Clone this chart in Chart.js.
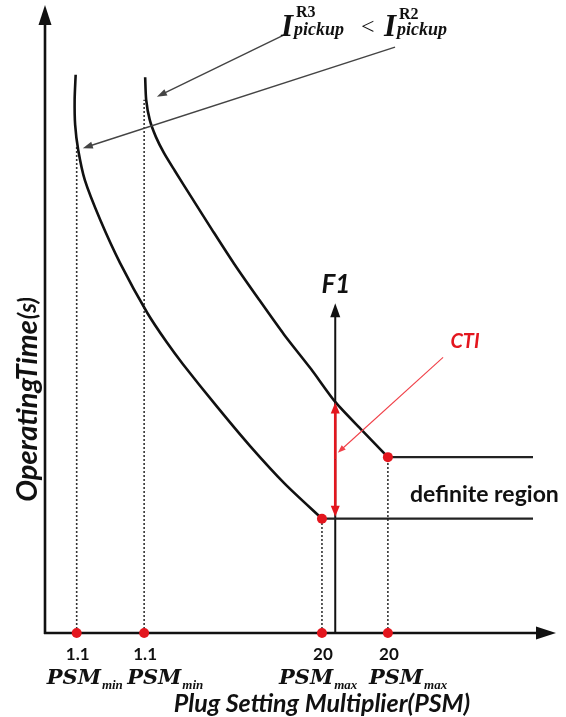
<!DOCTYPE html>
<html>
<head>
<meta charset="utf-8">
<script src="https://cdn.jsdelivr.net/npm/chart.js"></script>
<style>
html,body{margin:0;padding:0;background:#fff}
#wrap{width:566px;height:717px}
</style>
</head>
<body>
<div id="wrap"><canvas id="c" width="566" height="717"></canvas></div>
<script>
// Kurbak: [PSM unitatea, denbora (s)]
var curveR3 = [[0.60,8.89],[0.58,8.49],[0.59,8.09],[0.65,7.69],[0.78,7.21],[1.08,6.58],[1.47,5.89],[2.00,5.10],[2.39,4.62],[2.70,4.28],[3.37,3.60],[4.01,2.98],[4.70,2.37],[5.42,1.82]];
var curveR2 = [[1.96,8.85],[1.98,8.49],[2.05,8.17],[2.17,7.90],[2.33,7.64],[2.54,7.36],[2.88,6.92],[3.27,6.42],[3.70,5.88],[4.17,5.33],[4.68,4.75],[5.21,4.20],[5.68,3.68],[6.20,3.23],[6.71,2.80]];
var definiteEnd = 9.55;

// x ardatzeko markak
var tickPos   = [0.62, 1.94, 5.42, 6.71];
var tickValue = ['1.1', '1.1', '20', '20'];
var tickSub   = ['min', 'min', 'max', 'max'];
var dropTop   = [7.75, 8.49, 1.82, 2.80]; // marra etenen goiko muga

// F1 eta CTI
var f1X = 5.68, f1Top = 5.25;
var ctiTimes = [1.85, 3.67];
var ctiPointer = [7.79, 4.39, 5.73, 2.87];
var pickupArrows = [[4.74, 9.55, 2.19, 8.54], [6.85, 9.33, 0.74, 7.72]];

var RED = '#e3161e';
var INK = '#111';

function pts(a){ return a.map(function(p){ return {x:p[0], y:p[1]}; }); }

function head(ctx, x1, y1, x2, y2, len, half){
  var a = Math.atan2(y2-y1, x2-x1), c = Math.cos(a), s = Math.sin(a);
  ctx.beginPath();
  ctx.moveTo(x2, y2);
  ctx.lineTo(x2 - len*c + half*s, y2 - len*s - half*c);
  ctx.lineTo(x2 - len*c - half*s, y2 - len*s + half*c);
  ctx.closePath();
  ctx.fill();
}
function arrow(ctx, x1, y1, x2, y2, len, half, color, lw){
  var a = Math.atan2(y2-y1, x2-x1);
  ctx.strokeStyle = color; ctx.fillStyle = color; ctx.lineWidth = lw;
  ctx.beginPath();
  ctx.moveTo(x1, y1);
  ctx.lineTo(x2 - len*0.7*Math.cos(a), y2 - len*0.7*Math.sin(a));
  ctx.stroke();
  head(ctx, x1, y1, x2, y2, len, half);
}

// datasetak (lehenengoa goian marrazten da)
var datasets = [];
datasets.push({
  data: tickPos.map(function(v){ return {x:v, y:0}; })
    .concat([{x:curveR3[curveR3.length-1][0], y:curveR3[curveR3.length-1][1]},
             {x:curveR2[curveR2.length-1][0], y:curveR2[curveR2.length-1][1]}]),
  showLine:false, pointRadius:5, pointBackgroundColor:RED, pointBorderWidth:0, clip:false
});
[curveR3, curveR2].forEach(function(cv){
  datasets.push({ data: pts(cv), showLine:true, borderColor:INK, borderWidth:2.6, pointRadius:0, tension:0.25, clip:false });
  var last = cv[cv.length-1];
  datasets.push({ data: [{x:last[0], y:last[1]}, {x:definiteEnd, y:last[1]}], showLine:true, borderColor:'#222', borderWidth:2.2, pointRadius:0, clip:false });
});
tickPos.forEach(function(v, i){
  datasets.push({ data: [{x:v, y:0}, {x:v, y:dropTop[i]}], showLine:true, borderColor:'#333', borderWidth:1.6, borderDash:[2,2], pointRadius:0, clip:false });
});

var drawing = {
  id: 'drawing',
  beforeDatasetsDraw: function(chart){
    var ctx = chart.ctx, ca = chart.chartArea, xs = chart.scales.x, ys = chart.scales.y;
    ctx.save();
    arrow(ctx, ca.left, ca.bottom + 1, ca.left, ca.top, 20, 6.5, INK, 2.6);
    arrow(ctx, ca.left - 1, ca.bottom, ca.right, ca.bottom, 20, 6.5, INK, 2.6);
    arrow(ctx, xs.getPixelForValue(f1X), ca.bottom, xs.getPixelForValue(f1X), ys.getPixelForValue(f1Top), 14, 5, INK, 2);
    ctx.restore();
  },
  afterDatasetsDraw: function(chart){
    var ctx = chart.ctx, xs = chart.scales.x, ys = chart.scales.y;
    function X(v){ return xs.getPixelForValue(v); }
    function Y(v){ return ys.getPixelForValue(v); }
    ctx.save();

    // CTI gezi bikoitza
    var fx = X(f1X), y1 = Y(ctiTimes[0]), y2 = Y(ctiTimes[1]);
    arrow(ctx, fx, (y1+y2)/2, fx, y2, 11, 4.5, RED, 2.6);
    arrow(ctx, fx, (y1+y2)/2, fx, y1, 11, 4.5, RED, 2.6);
    arrow(ctx, X(ctiPointer[0]), Y(ctiPointer[1]), X(ctiPointer[2]), Y(ctiPointer[3]), 8, 3, '#f04048', 1.1);

    // I_pickup geziak
    pickupArrows.forEach(function(a){
      arrow(ctx, X(a[0]), Y(a[1]), X(a[2]), Y(a[3]), 10, 3.5, '#444', 1.4);
    });

    // testuak
    ctx.fillStyle = INK;
    ctx.textAlign = 'center'; ctx.textBaseline = 'middle';
    ctx.font = 'bold italic 26px Lato';
    ctx.fillText('F1', 336, 285);
    ctx.fillStyle = RED;
    ctx.font = 'bold italic 20px Lato';
    ctx.fillText('CTI', 465, 342);
    ctx.fillStyle = INK;
    ctx.font = 'bold 23px Lato';
    ctx.textAlign = 'left';
    ctx.fillText('definite region', 410, 495);

    // x ardatzeko etiketak
    var offs = [-30, -17, -43, -19];
    tickPos.forEach(function(v, i){
      var p = X(v);
      ctx.textAlign = 'center'; ctx.textBaseline = 'middle';
      ctx.font = 'bold 17px Lato';
      ctx.fillText(tickValue[i], p + 1, 655);
      ctx.textAlign = 'left'; ctx.textBaseline = 'alphabetic';
      ctx.font = 'bold italic 21px "DejaVu Serif"';
      ctx.fillText('PSM', p + offs[i], 684);
      var w = ctx.measureText('PSM').width;
      ctx.font = 'bold italic 13px "Liberation Serif"';
      ctx.fillText(tickSub[i], p + offs[i] + w + 1, 689);
    });

    ctx.textAlign = 'center'; ctx.textBaseline = 'middle';
    ctx.font = 'bold italic 25px Lato';
    ctx.fillText('Plug Setting Multiplier(PSM)', 322, 704);

    // y ardatzeko izenburua
    ctx.save();
    ctx.translate(28, 400);
    ctx.rotate(-Math.PI/2);
    ctx.textAlign = 'left';
    ctx.font = 'bold italic 29px Lato';
    var w1 = ctx.measureText('OperatingTime').width;
    ctx.font = 'bold italic 24px Lato';
    var w2 = ctx.measureText('(s)').width;
    var sx = -(w1 + w2)/2;
    ctx.font = 'bold italic 29px Lato';
    ctx.fillText('OperatingTime', sx, 0);
    ctx.font = 'bold italic 24px Lato';
    ctx.fillText('(s)', sx + w1 + 1, 0);
    ctx.restore();

    // I^R3_pickup < I^R2_pickup
    ctx.textAlign = 'left'; ctx.textBaseline = 'alphabetic';
    function pick(x, sup, supY){
      ctx.font = 'bold italic 31px "Liberation Serif"';
      ctx.fillText('I', x, 36);
      ctx.font = 'bold 16px "Liberation Serif"';
      ctx.fillText(sup, x + 15, supY);
      ctx.font = 'bold italic 18px "Liberation Serif"';
      ctx.fillText('pickup', x + 13, 35);
    }
    pick(281, 'R3', 17);
    ctx.font = '24px "Liberation Serif"';
    ctx.fillText('<', 361, 34);
    pick(384, 'R2', 19);

    ctx.restore();
  }
};

new Chart(document.getElementById('c'), {
  type: 'scatter',
  data: { datasets: datasets },
  options: {
    responsive: false,
    animation: false,
    devicePixelRatio: 1,
    layout: { padding: { left:45, right:10, top:5, bottom:84 } },
    scales: {
      x: { type:'linear', min:0, max:10, display:false },
      y: { type:'linear', min:0, max:10, display:false }
    },
    plugins: { legend:{display:false}, tooltip:{enabled:false} }
  },
  plugins: [drawing]
});
</script>
</body>
</html>
